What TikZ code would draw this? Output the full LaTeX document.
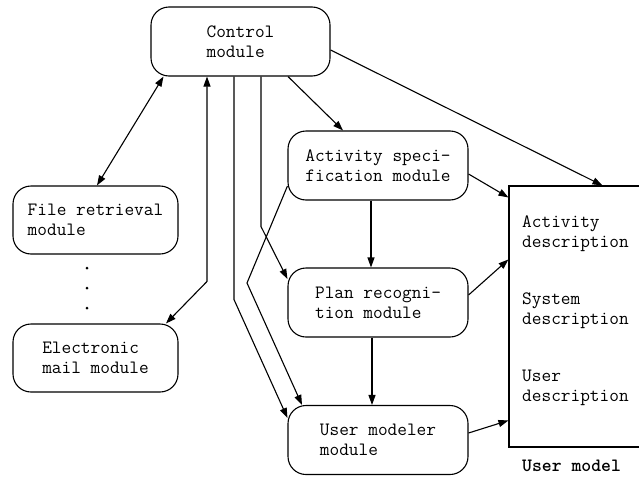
\documentclass[tikz,border=0pt]{standalone}
\usetikzlibrary{arrows.meta}
\begin{document}
\begin{tikzpicture}[x=1pt,y=-1pt,
  every node/.style={font=\ttfamily\fontsize{18.8}{20}\selectfont},
  modbox/.style={draw, line width=1.1pt, rounded corners=18pt, align=left, inner sep=0pt},
  ctrlbox/.style={modbox, minimum width=179pt, minimum height=69pt},
  midbox/.style={modbox, minimum width=180pt, minimum height=69pt},
  leftbox/.style={modbox, minimum width=165pt, minimum height=68pt},
  umbox/.style={draw, line width=1.1pt, minimum width=141pt, minimum height=261pt, inner sep=0pt},
  lbl/.style={anchor=west, align=left, inner sep=0pt},
  conn/.style={line width=1.1pt, -{Triangle[length=10pt,width=7pt]}},
  dconn/.style={line width=1.1pt, {Triangle[length=10pt,width=7pt]}-{Triangle[length=10pt,width=7pt]}},
  dotmark/.style={circle, fill, inner sep=0pt, minimum size=3pt}
]
\useasboundingbox (0,0) rectangle (639,479);

\node[ctrlbox] (ctrl) at (240.5,41.5) {Control\\module};
\node[midbox] (act) at (378,165.5) {Activity speci-\\fication module};
\node[midbox] (plan) at (378,302.5) {Plan recogni-\\tion module};
\node[midbox] (umod) at (378,440) {User modeler\\module};
\node[leftbox] (file) at (95.5,220) {File retrieval\\module};
\node[leftbox] (mail) at (95.5,358) {Electronic\\mail module};
\node[umbox] (um) at (579.5,316.5) {};

\node[lbl] (t1) at (522,234) {Activity\\description};
\node[lbl] (t2) at (522,311) {System\\description};
\node[lbl] (t3) at (522,387.5) {User\\description};
\node[lbl, font=\ttfamily\bfseries\fontsize{18.8}{20}\selectfont] (umlabel) at (522,466) {User model};

\node[dotmark] (d1) at (87,268) {};
\node[dotmark] (d2) at (87,288) {};
\node[dotmark] (d3) at (87,308) {};

% connectors
\draw[dconn] ([xshift=1.5pt]file.north) -- ([xshift=-77pt]ctrl.south);
\draw[dconn] ([xshift=70.5pt]mail.north) -- ++(41,-42) -- ([xshift=-33.5pt]ctrl.south);
\draw[conn] ([xshift=-6.5pt]ctrl.south) -- ++(0,223) -- ([yshift=22pt]umod.west);
\draw[conn] ([xshift=20.5pt]ctrl.south) -- ++(0,150) -- ([yshift=23.5pt]plan.west);
\draw[conn] ([yshift=-20.5pt]act.west) -- (247,283) -- ([xshift=-76pt]umod.north);
\draw[conn] ([xshift=47.5pt]ctrl.south) -- ([xshift=-35pt]act.north);
\draw[conn] ([yshift=-8.5pt]ctrl.east) -- ([xshift=94pt]um.north west);
\draw[conn] ([yshift=-8.5pt]act.east) -- ([yshift=-12pt]um.north west);
\draw[conn] ([xshift=-7pt]act.south) -- ([xshift=-7pt]plan.north);
\draw[conn] ([yshift=7.5pt]plan.east) -- ([yshift=-74pt]um.north west);
\draw[conn] ([xshift=-6pt]plan.south) -- ([xshift=-6pt]umod.north);
\draw[conn] ([yshift=7pt]umod.east) -- ([yshift=-235pt]um.north west);
\end{tikzpicture}
\end{document}
